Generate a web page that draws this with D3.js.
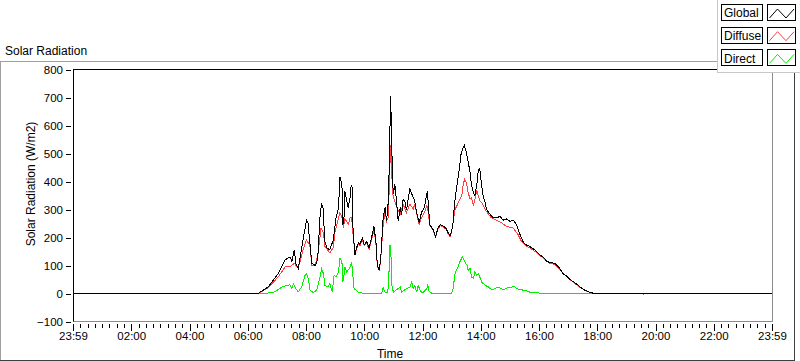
<!DOCTYPE html>
<html lang="en">
<head>
    <meta charset="UTF-8">
    <title>Solar Radiation</title>
    <style>
        body { margin: 0; background: #fff; }
        text { font-family: "Liberation Sans", Arial, sans-serif; fill: #000; }
    </style>
</head>

<body>
    <svg id="container" width="800" height="361"></svg>
</body>

<script src="https://cdn.jsdelivr.net/npm/d3@7/dist/d3.min.js"></script>

<script>

    // ---- data ----
    let globalTimes = [
        "00:00","06:21","06:42","07:03","07:17","07:27","07:31","07:36","07:39","07:44",
        "07:54","08:01","08:04","08:08","08:12","08:19","08:24","08:29","08:32","08:36",
        "08:38","08:43","08:49","08:56","09:02","09:07","09:10","09:14","09:16","09:18",
        "09:20","09:24","09:27","09:31","09:33","09:35","09:37","09:41","09:44","09:48",
        "09:51","09:56","10:00","10:05","10:10","10:15","10:20","10:24","10:27","10:31",
        "10:34","10:39","10:43","10:46","10:49","10:52","10:54","10:56","10:58","11:00",
        "11:03","11:07","11:10","11:14","11:17","11:20","11:24","11:27","11:31","11:34",
        "11:38","11:41","11:44","11:48","11:53","11:58","12:04","12:10","12:15","12:22",
        "12:27","12:32","12:37","12:43","12:48","12:53","12:57","13:00","13:03","13:05",
        "13:08","13:12","13:16","13:19","13:23","13:26","13:30","13:34","13:38","13:41",
        "13:45","13:48","13:52","13:55","13:58","14:02","14:05","14:09","14:12","14:19",
        "14:26","14:33","14:40","14:46","14:53","15:00","15:07","15:14","15:21","15:28",
        "15:35","15:41","15:48","15:55","16:02","16:09","16:16","16:23","16:33","16:43",
        "16:50","16:57","17:04","17:11","17:18","17:24","17:31","17:38","17:45","17:52",
        "18:02","24:00"]
    let globalValues = [
        0, 0, 23, 72, 120, 131, 115, 156, 108, 90,
        192, 262, 255, 181, 108, 100, 120, 276, 322, 300,
        192, 163, 156, 190, 271, 307, 416, 391, 246, 257,
        367, 331, 307, 344, 385, 380, 222, 138, 163, 181,
        174, 199, 174, 186, 163, 199, 240, 186, 101, 83,
        127, 271, 307, 258, 319, 475, 705, 608, 416, 355,
        391, 319, 258, 307, 279, 337, 326, 297, 344, 373,
        355, 344, 330, 290, 253, 290, 308, 367, 246, 228,
        204, 234, 246, 240, 234, 216, 206, 224, 253, 300,
        349, 397, 445, 494, 518, 530, 506, 470, 434, 385,
        361, 349, 391, 440, 445, 385, 349, 325, 300, 283,
        270, 270, 276, 262, 266, 258, 262, 246, 210, 182,
        172, 168, 160, 150, 138, 129, 115, 110, 108, 89,
        70, 62, 50, 42, 33, 24, 15, 9, 4, 1,
        0, 0]

    let diffuseTimes = [
        "00:00","06:21","06:42","07:03","07:17","07:27","07:36","07:44","07:54","08:01",
        "08:08","08:12","08:19","08:25","08:31","08:36","08:39","08:49","08:56","09:00",
        "09:10","09:14","09:17","09:20","09:24","09:27","09:31","09:34","09:37","09:41",
        "09:44","09:48","09:51","09:56","10:00","10:05","10:10","10:15","10:20","10:24",
        "10:27","10:31","10:34","10:39","10:43","10:46","10:49","10:52","10:54","10:56",
        "10:58","11:00","11:07","11:14","11:20","11:27","11:34","11:41","11:44","11:53",
        "11:58","12:05","12:09","12:12","12:15","12:22","12:27","12:32","12:37","12:43",
        "12:48","12:53","12:57","13:00","13:03","13:07","13:14","13:21","13:24","13:27",
        "13:31","13:34","13:38","13:41","13:45","13:48","13:52","13:55","13:58","14:02",
        "14:09","14:16","14:22","14:29","14:36","14:43","14:53","15:07","15:17","15:24",
        "15:35","15:41","15:55","16:09","16:23","16:33","16:43","16:57","17:11","17:24",
        "17:38","17:52","19:33","19:35","19:37","24:00"]
    let diffuseValues = [
        0, 0, 20, 60, 95, 95, 108, 90, 156, 192,
        170, 100, 100, 145, 235, 217, 168, 145, 163, 222,
        289, 271, 234, 266, 258, 246, 271, 271, 210, 138,
        160, 176, 170, 192, 170, 180, 158, 192, 225, 180,
        98, 81, 125, 246, 294, 258, 271, 391, 530, 475,
        367, 344, 307, 283, 319, 289, 319, 301, 320, 246,
        270, 294, 313, 290, 243, 225, 201, 231, 243, 237,
        231, 213, 203, 222, 253, 300, 325, 349, 391, 409,
        391, 361, 337, 343, 313, 337, 367, 349, 331, 325,
        300, 283, 270, 264, 258, 252, 240, 234, 210, 186,
        168, 163, 146, 126, 107, 104, 86, 60, 40, 22,
        8, 0, 0, -3, 0, 0]

    let directTimes = [
        "00:00","06:36","06:56","07:10","07:20","07:27","07:31","07:34","07:37","07:44",
        "07:51","07:58","08:01","08:05","08:08","08:15","08:22","08:29","08:32","08:36",
        "08:39","08:45","08:49","08:54","08:58","09:02","09:07","09:10","09:14","09:16",
        "09:18","09:20","09:24","09:27","09:31","09:34","09:36","09:39","09:43","09:48",
        "09:58","10:36","10:39","10:43","10:48","10:50","10:53","10:55","10:57","11:00",
        "11:14","11:17","11:27","11:34","11:38","11:41","11:44","11:48","11:51","11:55",
        "11:59","12:09","12:11","12:13","12:19","13:00","13:03","13:07","13:13","13:17",
        "13:22","13:26","13:29","13:32","13:34","13:38","13:41","13:45","13:48","13:52",
        "13:55","13:58","14:02","14:09","14:16","14:22","14:29","14:36","14:43","14:46",
        "14:57","15:04","15:10","15:14","15:21","15:31","15:41","15:55","16:02","24:00"]
    let directValues = [
        0, 0, 6, 23, 29, 31, 18, 35, 23, 6,
        23, 65, 71, 53, 12, 3, 12, 59, 89, 71,
        29, 23, 35, 6, 65, 60, 77, 126, 114, 41,
        60, 95, 77, 84, 95, 113, 77, 17, 12, 5,
        1, 1, 21, 4, 5, 29, 174, 138, 29, 5,
        23, 5, 17, 23, 41, 17, 29, 5, 29, 12,
        1, 17, 32, 10, 1, 1, 17, 71, 95, 113,
        131, 119, 107, 101, 83, 89, 59, 53, 77, 65,
        71, 59, 41, 29, 23, 14, 17, 23, 17, 14,
        21, 23, 24, 17, 14, 11, 5, 5, 0, 0]

    let seriesNames = ["Global", "Diffuse", "Direct"]
    let seriesColors = ["#000000", "#ff4040", "#00f000"]

    let yTicks = [-100, 0, 100, 200, 300, 400, 500, 600, 700, 800]
    let xTickMinutes = [0, 120, 240, 360, 480, 600, 720, 840, 960, 1080, 1200, 1320, 1440]
    let xTickLabels = ["23:59", "02:00", "04:00", "06:00", "08:00", "10:00", "12:00",
                       "14:00", "16:00", "18:00", "20:00", "22:00", "23:59"]

    // ---- helpers ----
    function toMinutes(s) {
        let p = s.split(":")
        return +p[0] * 60 + +p[1]
    }

    function zip(times, values) {
        return times.map((t, i) => ({ t: toMinutes(t), v: values[i] }))
    }

    let series = [
        zip(globalTimes, globalValues),
        zip(diffuseTimes, diffuseValues),
        zip(directTimes, directValues)
    ]

    let svg = d3.select("#container")

    let plot = { left: 73, right: 772, top: 69.5, bottom: 321.5 }

    let x = d3.scaleLinear().domain([0, 1440]).range([plot.left, plot.right])
    let y = d3.scaleLinear().domain([-100, 800]).range([plot.bottom, plot.top])

    // outer panel border (sunken look)
    svg.append("line").attr("x1", 0).attr("x2", 717).attr("y1", 61.5).attr("y2", 61.5)
        .attr("stroke", "#a0a0a0")
    svg.append("line").attr("x1", 0.5).attr("x2", 0.5).attr("y1", 61).attr("y2", 361)
        .attr("stroke", "#a0a0a0")
    svg.append("line").attr("x1", 794.5).attr("x2", 794.5).attr("y1", 61).attr("y2", 361)
        .attr("stroke", "#404040")
    svg.append("line").attr("x1", 0).attr("x2", 795).attr("y1", 360.5).attr("y2", 360.5)
        .attr("stroke", "#404040")

    // title
    svg.append("text").attr("x", 5).attr("y", 55)
        .style("font-size", "12px").text("Solar Radiation")

    // plot area
    svg.append("rect")
        .attr("x", plot.left).attr("y", plot.top)
        .attr("width", plot.right - plot.left).attr("height", plot.bottom - plot.top)
        .attr("fill", "#fff")

    // series lines (direct underneath, global on top)
    let line = d3.line()
        .x(d => x(d.t))
        .y(d => y(d.v))

    let order = [2, 1, 0]
    svg.append("g").selectAll("path")
        .data(order)
        .enter()
        .append("path")
        .attr("d", i => line(series[i]))
        .attr("fill", "none")
        .attr("stroke", i => seriesColors[i])
        .attr("stroke-width", 1)
        .attr("shape-rendering", "crispEdges")

    // frame: top/left dark, right/bottom gray
    svg.append("line").attr("x1", plot.right + 0.5).attr("x2", plot.right + 0.5)
        .attr("y1", plot.top).attr("y2", plot.bottom + 0.5).attr("stroke", "#8c8c8c")
    svg.append("line").attr("x1", plot.left).attr("x2", plot.right + 1)
        .attr("y1", plot.bottom).attr("y2", plot.bottom).attr("stroke", "#8c8c8c")
    svg.append("line").attr("x1", plot.left).attr("x2", plot.right + 1)
        .attr("y1", plot.top).attr("y2", plot.top).attr("stroke", "#000")
    svg.append("line").attr("x1", plot.left + 0.5).attr("x2", plot.left + 0.5)
        .attr("y1", plot.top).attr("y2", plot.bottom).attr("stroke", "#000")

    // y axis
    let yAxis = d3.axisLeft(y).tickValues(yTicks).tickSize(5).tickPadding(3)
    let yg = svg.append("g")
        .attr("transform", "translate(" + (plot.left - 2) + ",0)")
        .call(yAxis)
    yg.select(".domain").remove()
    yg.selectAll("line").attr("stroke", "#000").attr("shape-rendering", "crispEdges")
    yg.selectAll("text").style("font-size", "11.5px")
        .style("font-family", "'Liberation Sans', Arial, sans-serif").attr("fill", "#000")

    // x axis: minor every 15 min, major every 2 h
    let minor = d3.range(0, 1441, 15)
    let xg = svg.append("g")
    xg.selectAll("line.minor")
        .data(minor)
        .enter()
        .append("line")
        .attr("x1", d => Math.round(x(d)) + 0.5)
        .attr("x2", d => Math.round(x(d)) + 0.5)
        .attr("y1", plot.bottom + 2.5)
        .attr("y2", d => plot.bottom + (d % 120 === 0 ? 9 : 6))
        .attr("stroke", "#000")
        .attr("shape-rendering", "crispEdges")
    xg.selectAll("text")
        .data(xTickMinutes)
        .enter()
        .append("text")
        .attr("x", d => x(d) + 0.5)
        .attr("y", 340)
        .attr("text-anchor", "middle")
        .style("font-size", "11.5px")
        .text((d, i) => xTickLabels[i])

    // axis names
    svg.append("text")
        .attr("transform", "translate(35,184) rotate(-90)")
        .attr("text-anchor", "middle")
        .style("font-size", "12px")
        .attr("fill", "#3a2418")
        .text("Solar Radiation (W/m2)")
    svg.append("text")
        .attr("x", 390).attr("y", 358)
        .attr("text-anchor", "middle")
        .style("font-size", "12px")
        .text("Time")

    // legend
    let legend = svg.append("g")
    legend.append("rect")
        .attr("x", 717.5).attr("y", -1).attr("width", 90).attr("height", 73.5)
        .attr("fill", "#fff").attr("stroke", "#c8c8c8")

    let rowY = d3.scaleLinear().domain([0, 1]).range([4.5, 27.2])
    let entry = legend.selectAll("g.entry")
        .data(seriesNames)
        .enter()
        .append("g")
        .attr("transform", (d, i) => "translate(0," + rowY(i) + ")")

    entry.append("rect")
        .attr("x", 721.5).attr("y", 0).attr("width", 41).attr("height", 16)
        .attr("fill", "#fff").attr("stroke", "#000")
        .attr("shape-rendering", "crispEdges")
    entry.append("text")
        .attr("x", 724).attr("y", 12.8)
        .style("font-size", "12px")
        .text(d => d)
    entry.append("rect")
        .attr("x", 767.5).attr("y", 0).attr("width", 28).attr("height", 16)
        .attr("fill", "#fff").attr("stroke", "#000")
        .attr("shape-rendering", "crispEdges")
    entry.append("polyline")
        .attr("points", "769.5,13.5 777.5,4.5 786,13.5 794,4.5")
        .attr("fill", "none")
        .attr("stroke", (d, i) => seriesColors[i])

</script>

</html>
